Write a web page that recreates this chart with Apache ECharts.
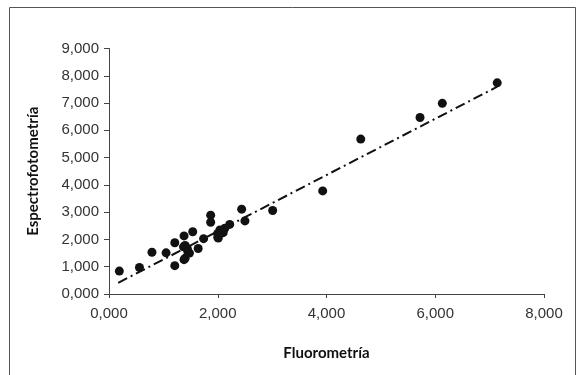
<!DOCTYPE html>
<html>
<head>
<meta charset="utf-8">
<script src="https://cdn.jsdelivr.net/npm/echarts@6/dist/echarts.min.js"></script>
<style>html,body{margin:0;padding:0;background:#fff;}#c{width:577px;height:375px;}</style>
</head>
<body>
<div id="c"></div>
<script>
const fluorometria = [0.19,0.56,0.79,1.05,1.21,1.21,1.38,1.54,1.37,1.40,1.44,1.38,1.40,1.48,1.45,1.64,1.74,1.87,1.87,2.00,2.01,2.00,2.04,2.10,2.13,2.22,2.44,2.50,3.01,3.93,4.63,5.72,6.13,7.14];
const espectro    = [0.84,0.97,1.53,1.51,1.88,1.04,2.13,2.28,1.73,1.78,1.67,1.26,1.31,1.50,1.55,1.67,2.03,2.89,2.63,2.08,2.05,2.22,2.35,2.25,2.41,2.55,3.11,2.68,3.06,3.78,5.68,6.47,6.99,7.74];
const trendX = [0.17, 7.14];
const trendY = [0.41, 7.60];
const xTicks = [0,2,4,6,8];
const yTicks = [0,1,2,3,4,5,6,7,8,9];

const fmt = v => v.toFixed(3).replace('.', ',');
const pts = fluorometria.map((x,i)=>[x, espectro[i]]);
const trend = trendX.map((x,i)=>[x, trendY[i]]);

const chart = echarts.init(document.getElementById('c'));
chart.setOption({
  animation:false,
  backgroundColor:'#fff',
  graphic:[{type:'rect',shape:{x:9.5,y:7.5,width:566,height:400},style:{fill:'none',stroke:'#555',lineWidth:1}}],
  grid:{left:109,right:33,top:48.5,bottom:81},
  xAxis:{type:'value',min:0,max:8,interval:2,
    name:'Fluorometría',nameLocation:'middle',nameGap:52,
    nameTextStyle:{fontFamily:'Lato',fontWeight:'bold',fontSize:15,color:'#111'},
    axisLine:{show:true,lineStyle:{color:'#444',width:1}},
    axisTick:{show:true,inside:false,length:4,lineStyle:{color:'#444'}},
    splitLine:{show:false},
    axisLabel:{formatter:fmt,fontFamily:'Liberation Sans, Arial, sans-serif',fontSize:15,color:'#333',margin:12}},
  yAxis:{type:'value',min:0,max:9,interval:1,
    name:'Espectrofotometría',nameLocation:'middle',nameGap:68,
    nameTextStyle:{fontFamily:'Lato',fontWeight:'bold',fontSize:15,color:'#111'},
    axisLine:{show:true,lineStyle:{color:'#444',width:1}},
    axisTick:{show:true,inside:false,length:5,lineStyle:{color:'#444'}},
    splitLine:{show:false},
    axisLabel:{formatter:fmt,fontFamily:'Liberation Sans, Arial, sans-serif',fontSize:15,color:'#333',margin:10}},
  series:[
    {type:'scatter',data:pts,symbol:'circle',symbolSize:9,itemStyle:{color:'#111',opacity:1},z:3},
    {type:'line',data:trend,symbol:'none',lineStyle:{color:'#111',width:2,type:[10,4,2,4]},z:2}
  ]
});
</script>
</body>
</html>
